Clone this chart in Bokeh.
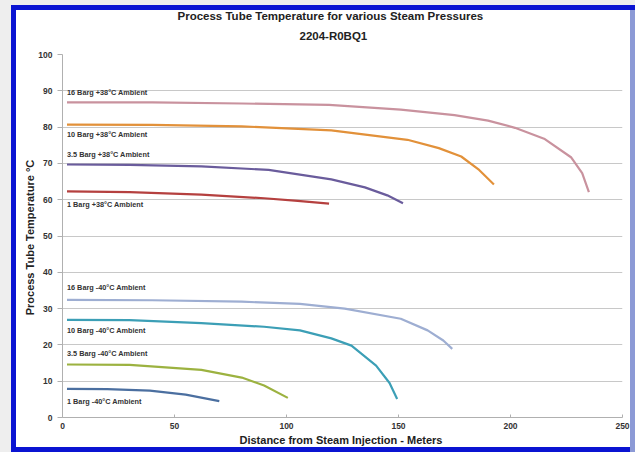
from bokeh.plotting import figure
from bokeh.models import ColumnDataSource, FixedTicker, Range1d, Title
from bokeh.core.properties import value
from bokeh.embed import file_html
from bokeh.resources import INLINE

# ---- data ----
x_16_hot = [2, 40, 80, 119, 151, 175, 190, 202, 215, 227, 232, 235]
y_16_hot = [86.8, 86.8, 86.5, 86.1, 84.8, 83.3, 81.8, 79.8, 76.8, 71.7, 67.3, 62.1]
x_10_hot = [2, 40, 80, 120, 154, 168, 178, 186, 192.6]
y_10_hot = [80.7, 80.6, 80.2, 79.1, 76.5, 74.2, 71.9, 68.2, 64.2]
x_35_hot = [2, 30, 62, 92, 120, 135, 145, 152]
y_35_hot = [69.7, 69.6, 69.2, 68.2, 65.6, 63.4, 61.2, 59.0]
x_1_hot = [2, 30, 62, 90, 105, 119]
y_1_hot = [62.3, 62.1, 61.4, 60.4, 59.7, 58.9]
x_16_cold = [2, 40, 80, 106, 126, 151, 163, 170, 174]
y_16_cold = [32.4, 32.3, 31.9, 31.3, 30.0, 27.2, 24.0, 21.2, 18.9]
x_10_cold = [2, 30, 62, 90, 106, 120, 129, 140, 146, 149.4]
y_10_cold = [26.9, 26.8, 26.0, 25.0, 24.0, 21.8, 19.8, 14.3, 9.5, 5.1]
x_35_cold = [2, 30, 62, 80, 90, 100.6]
y_35_cold = [14.6, 14.5, 13.1, 11.0, 8.8, 5.4]
x_1_cold = [2, 20, 39, 55, 70]
y_1_cold = [7.9, 7.8, 7.4, 6.3, 4.5]

labels = ["16 Barg  +38°C Ambient", "10 Barg  +38°C Ambient", "3.5 Barg  +38°C Ambient",
          "1 Barg  +38°C Ambient", "16 Barg  -40°C Ambient", "10 Barg  -40°C Ambient",
          "3.5 Barg  -40°C Ambient", "1 Barg  -40°C Ambient"]
label_x = [2, 2, 2, 2, 2, 2, 2, 2]
label_y = [89.5, 78.0, 72.4, 58.7, 35.8, 24.0, 17.6, 4.4]

x_ticks = [0, 50, 100, 150, 200, 250]
y_ticks = [0, 10, 20, 30, 40, 50, 60, 70, 80, 90, 100]

title_1 = "Process Tube Temperature for various Steam Pressures"
title_2 = "2204-R0BQ1"

series = [
    (x_16_hot, y_16_hot, "#c9929e"),
    (x_10_hot, y_10_hot, "#e2913a"),
    (x_35_hot, y_35_hot, "#6a5c9c"),
    (x_1_hot, y_1_hot, "#b5403f"),
    (x_16_cold, y_16_cold, "#9eaed2"),
    (x_10_cold, y_10_cold, "#3c9fb6"),
    (x_35_cold, y_35_cold, "#9cb240"),
    (x_1_cold, y_1_cold, "#4b6fa0"),
]

FONT = "Liberation Sans"
W, H = 635, 452

p = figure(width=W, height=H, output_backend="svg", toolbar_location=None,
           x_range=Range1d(0, 250), y_range=Range1d(0, 100),
           min_border_left=62, min_border_right=13, min_border_top=54, min_border_bottom=35)

# blue picture frame drawn with inset shadows on the host element
p.styles = {
    "background-color": "white",
    "box-shadow": ("inset 11px 5px 0 0 #eeeeee, inset 16px 10px 0 0 #0a14d2, "
                   "inset -5px 0 0 0 #8c9ad6, inset 0 -5px 0 0 #0a14d2"),
}

for txt, off, so in ((title_2, 237, 26), (title_1, 115, -15)):
    t = Title(text=txt, align="left", offset=off, standoff=so, text_font=FONT,
              text_font_size="11.5px", text_font_style="bold", text_color="#222222")
    p.add_layout(t, "above")

p.background_fill_color = "white"
p.border_fill_alpha = 0
p.outline_line_color = None

p.xgrid.grid_line_color = None
p.ygrid.grid_line_color = "#c8c8c8"
p.ygrid.grid_line_width = 1.2

p.xaxis.ticker = FixedTicker(ticks=x_ticks)
p.yaxis.ticker = FixedTicker(ticks=y_ticks)
for ax in (p.xaxis[0], p.yaxis[0]):
    ax.axis_line_color = "#b0b0b0"
    ax.major_tick_line_color = "#b0b0b0"
    ax.minor_tick_line_color = None
    ax.major_label_text_font = FONT
    ax.major_label_text_font_size = "8.5px"
    ax.major_label_text_font_style = "bold"
    ax.major_label_text_color = "#333333"
    ax.axis_label_text_font = FONT
    ax.axis_label_text_font_size = "11px"
    ax.axis_label_text_font_style = "bold"
    ax.axis_label_text_color = "#222222"
p.xaxis.major_tick_in = 3
p.xaxis.major_tick_out = 0
p.yaxis.major_tick_in = 0
p.yaxis.major_tick_out = 5
p.xaxis.axis_label = "Distance from Steam Injection -  Meters"
p.yaxis.axis_label = "Process Tube Temperature  °C"
p.xaxis.axis_label_standoff = 2
p.yaxis.axis_label_standoff = -1

for xs, ys, c in series:
    p.line(xs, ys, line_color=c, line_width=2.2)

src = ColumnDataSource(dict(x=label_x, y=label_y, t=labels))
p.text(x="x", y="y", text="t", source=src, text_font=value(FONT), text_font_size="7.3px",
       text_font_style="bold", text_color="#333333", text_baseline="middle", text_align="left")

open("out.html", "w").write(file_html(p, INLINE))
